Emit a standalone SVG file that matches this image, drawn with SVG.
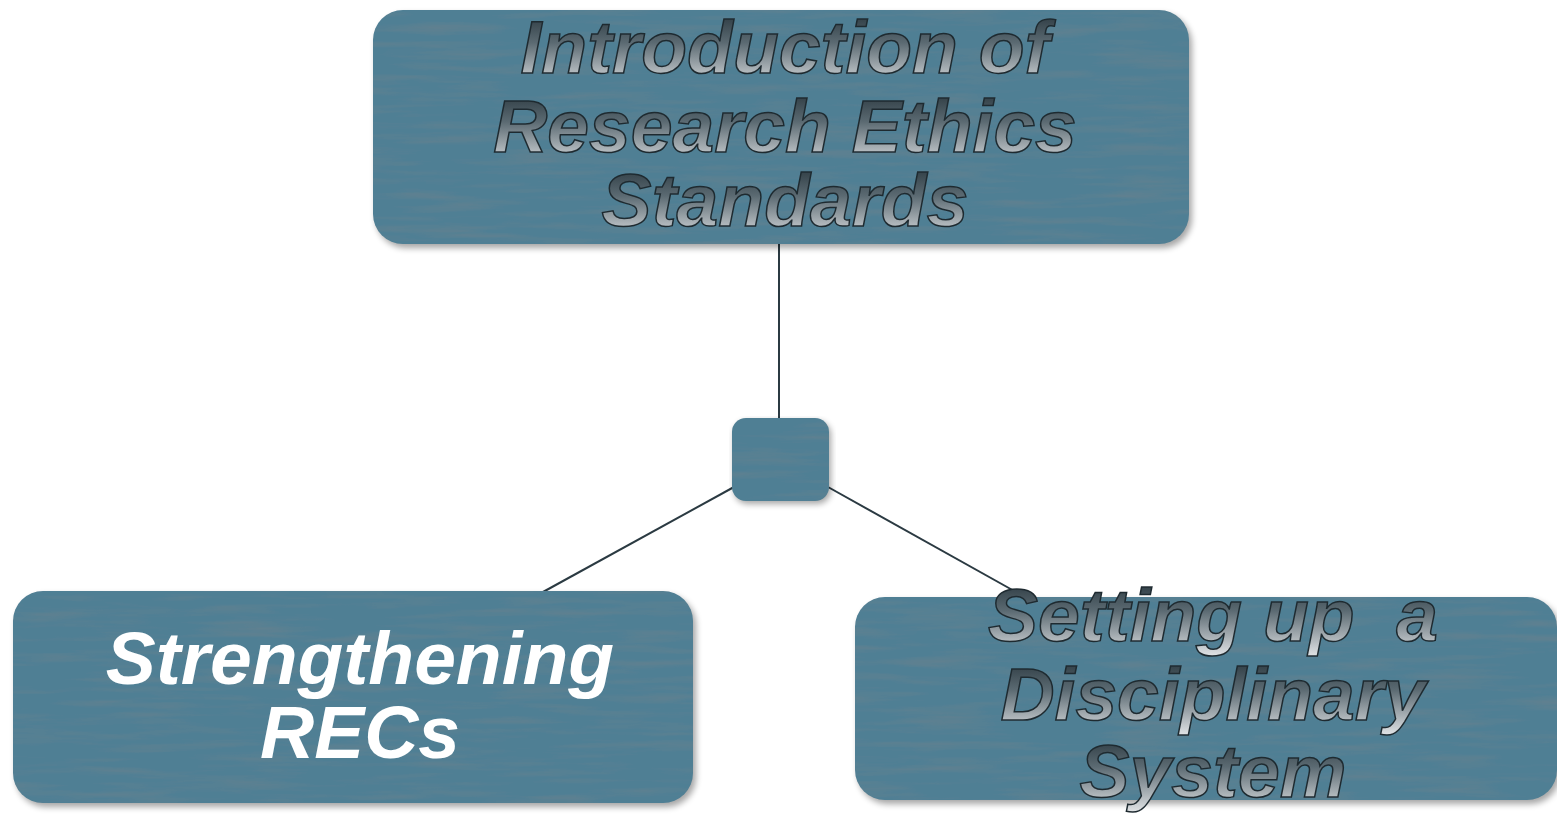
<svg xmlns="http://www.w3.org/2000/svg" width="1557" height="815" viewBox="0 0 1557 815">
<defs>
<style>
.box{fill:#4f7f94;filter:url(#water)}
.shadow{fill:#000;opacity:0.35;filter:url(#blur)}
.conn{stroke:#2b3a42;stroke-width:2;fill:none}
.t{font-family:"Liberation Sans",Arial,sans-serif;font-weight:bold;font-style:italic;font-size:75px;text-anchor:middle}
.metal{fill:url(#metal);stroke:#1e2a30;stroke-width:1.5}
.white{fill:#ffffff}
</style>
<linearGradient id="metal" x1="0" y1="0" x2="0" y2="1">
<stop offset="0" stop-color="#1f2c33"/>
<stop offset="0.45" stop-color="#5b6a72"/>
<stop offset="1" stop-color="#e4e6e8"/>
</linearGradient>
<filter id="blur" x="-5%" y="-5%" width="110%" height="115%">
<feGaussianBlur stdDeviation="3"/>
</filter>
<filter id="water" x="0" y="0" width="1" height="1">
<feTurbulence type="fractalNoise" baseFrequency="0.01 0.12" numOctaves="3" seed="4" result="n"/>
<feColorMatrix in="n" type="matrix" values="0 0 0 0 0.13  0 0 0 0 0.22  0 0 0 0 0.27  1.6 0 0 0 -0.72" result="spots"/>
<feComposite in="spots" in2="SourceGraphic" operator="atop" result="tex"/>
</filter>
</defs>
<rect width="1557" height="815" fill="#ffffff"/>
<g id="connectors">
<line class="conn" x1="779" y1="244" x2="779" y2="419"/>
<line class="conn" x1="734" y1="487" x2="543" y2="592"/>
<line class="conn" x1="828" y1="487" x2="1016" y2="592"/>
</g>
<g id="node-top">
<rect class="shadow" x="376" y="14" width="816" height="234" rx="30"/>
<rect class="box" x="373" y="10" width="816" height="234" rx="30"/>
<text class="t metal" x="785" y="73">Introduction of</text>
<text class="t metal" x="785" y="152">Research Ethics</text>
<text class="t metal" x="785" y="226">Standards</text>
</g>
<g id="node-junction">
<rect class="shadow" x="734" y="421" width="97" height="83" rx="14"/>
<rect class="box" x="732" y="418" width="97" height="83" rx="14"/>
</g>
<g id="node-left">
<rect class="shadow" x="16" y="595" width="680" height="212" rx="30"/>
<rect class="box" x="13" y="591" width="680" height="212" rx="30"/>
<text class="t white" x="360" y="684">Strengthening</text>
<text class="t white" x="360" y="758">RECs</text>
</g>
<g id="node-right">
<rect class="shadow" x="858" y="601" width="702" height="203" rx="30"/>
<rect class="box" x="855" y="597" width="702" height="203" rx="30"/>
<text class="t metal" x="1213" y="641" xml:space="preserve">Setting up  a</text>
<text class="t metal" x="1213" y="720">Disciplinary</text>
<text class="t metal" x="1213" y="797">System</text>
</g>
</svg>
